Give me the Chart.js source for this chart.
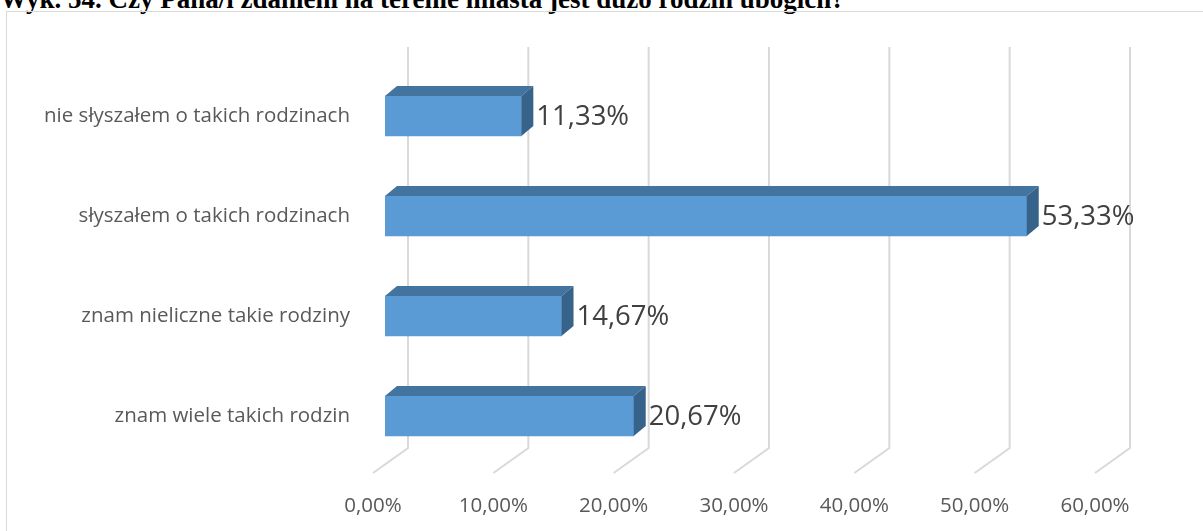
<!DOCTYPE html>
<html>
<head>
<meta charset="utf-8">
<script src="https://cdn.jsdelivr.net/npm/chart.js@4"></script>
<style>
  html, body { margin: 0; padding: 0; background: #fff; }
  #wrap { position: relative; width: 1203px; height: 531px; overflow: hidden; }
  #tytul {
    position: absolute; left: 0; top: -14px; white-space: nowrap;
    font: bold 27px "Liberation Serif", "Times New Roman", serif; line-height: 27px; color: #000;
  }
  #ramka {
    position: absolute; left: 6px; top: 11px; width: 1210px; height: 600px;
    border-left: 1px solid #d9d9d9; border-top: 1px solid #d9d9d9;
  }
  #wykres { position: absolute; left: 0; top: 0; }
</style>
</head>
<body>
<div id="wrap">
  <div id="tytul">Wyk. 54. Czy Pana/i zdaniem na terenie miasta jest dużo rodzin ubogich?</div>
  <div id="ramka"></div>
  <canvas id="wykres" width="1203" height="531"></canvas>
</div>
<script>
// dane (od góry wykresu)
const kategorie = [
  'nie słyszałem o takich rodzinach',
  'słyszałem o takich rodzinach',
  'znam nieliczne takie rodziny',
  'znam wiele takich rodzin'
];
const procenty = [11.33, 53.33, 14.67, 20.67];
const osX = [0, 10, 20, 30, 40, 50, 60];

function formatPL(v) {
  return v.toFixed(2).replace('.', ',') + '%';
}

// glebia "3D"
const DX = 12, DY = -10;

const siatka3D = {
  id: 'siatka3D',
  beforeDatasetsDraw(chart) {
    const ctx = chart.ctx;
    const x = chart.scales.x;
    const area = chart.chartArea;
    ctx.save();
    ctx.strokeStyle = '#d9d9d9';
    ctx.lineWidth = 2;
    osX.forEach(v => {
      const px = x.getPixelForValue(v);
      ctx.beginPath();
      ctx.moveTo(px + 23, area.top - 19);
      ctx.lineTo(px + 23, area.bottom - 18);
      ctx.lineTo(px - 12, area.bottom + 7);
      ctx.stroke();
    });
    ctx.restore();
  },
  afterDatasetsDraw(chart) {
    const ctx = chart.ctx;
    const meta = chart.getDatasetMeta(0);
    ctx.save();
    meta.data.forEach((bar, i) => {
      const l = bar.base, r = bar.x;
      const t = bar.y - bar.height / 2, b = bar.y + bar.height / 2;
      // gora
      ctx.fillStyle = '#43739f';
      ctx.beginPath();
      ctx.moveTo(l, t);
      ctx.lineTo(l + DX, t + DY);
      ctx.lineTo(r + DX, t + DY);
      ctx.lineTo(r, t);
      ctx.closePath();
      ctx.fill();
      // bok
      ctx.fillStyle = '#37638b';
      ctx.beginPath();
      ctx.moveTo(r, t);
      ctx.lineTo(r + DX, t + DY);
      ctx.lineTo(r + DX, b + DY);
      ctx.lineTo(r, b);
      ctx.closePath();
      ctx.fill();
      // etykieta
      ctx.fillStyle = '#404040';
      ctx.font = '27.5px "Open Sans"';
      ctx.textAlign = 'left';
      ctx.textBaseline = 'middle';
      ctx.fillText(formatPL(procenty[i]), r + DX + 3, bar.y + 1);
    });
    ctx.restore();
  }
};

new Chart(document.getElementById('wykres'), {
  type: 'bar',
  data: {
    labels: kategorie,
    datasets: [{
      data: procenty,
      backgroundColor: '#5b9bd5',
      borderWidth: 0,
      barThickness: 40
    }]
  },
  options: {
    indexAxis: 'y',
    responsive: false,
    animation: false,
    layout: { padding: { top: 66, right: 96, left: 0, bottom: 0 } },
    plugins: { legend: { display: false }, tooltip: { enabled: false } },
    scales: {
      x: {
        min: 0,
        max: 60,
        afterFit: s => { s.height = 65; },
        afterBuildTicks: s => { s.ticks = osX.map(v => ({ value: v })); },
        grid: { display: false, drawTicks: false },
        border: { display: false },
        ticks: {
          callback: v => formatPL(v),
          labelOffset: -12,
          padding: 28,
          color: '#595959',
          font: { family: 'Open Sans', size: 20.5 },
          maxRotation: 0
        }
      },
      y: {
        afterFit: s => { s.width = 385; },
        grid: { display: false, drawTicks: false },
        border: { display: false },
        ticks: {
          padding: 35,
          color: '#595959',
          font: { family: 'Open Sans', size: 20.5 }
        }
      }
    }
  },
  plugins: [siatka3D]
});
</script>
</body>
</html>
